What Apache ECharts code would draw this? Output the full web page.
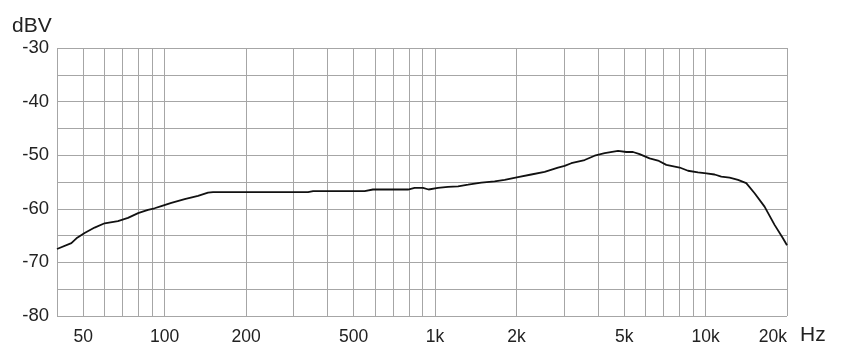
<!DOCTYPE html>
<html>
<head>
<meta charset="utf-8">
<script src="https://cdn.jsdelivr.net/npm/echarts@6/dist/echarts.min.js"></script>
<style>
html,body{margin:0;padding:0;background:#fff;}
#chart{width:841px;height:359px;}
</style>
</head>
<body>
<div id="chart"></div>
<script>
// Frequency (Hz) and level (dBV)
const freqs = [40, 45.2, 47.2, 50.6, 55.1, 60, 67.2, 73.2, 79.8, 86.8, 91.8, 97.2, 105.9, 118.6, 132.9, 144.7, 151,
  339, 354, 413, 549, 589, 794, 840, 902, 946, 1025, 1116, 1216, 1324, 1482, 1660, 1808, 2025, 2268, 2541, 2847,
  3012, 3188, 3571, 3889, 4237, 4747, 5093, 5392, 5703, 6209, 6670, 7159, 8018, 8610, 9373, 10069, 10798, 11429,
  12270, 13182, 14137, 15180, 16521, 17993, 19320, 20000];
const dbv = [-67.5, -66.4, -65.5, -64.5, -63.5, -62.7, -62.3, -61.7, -60.8, -60.2, -59.9, -59.5, -58.9, -58.2, -57.6, -57.0, -56.9,
  -56.9, -56.7, -56.7, -56.7, -56.4, -56.4, -56.1, -56.1, -56.4, -56.1, -55.9, -55.8, -55.5, -55.1, -54.9, -54.6, -54.1, -53.6, -53.1, -52.3,
  -52.0, -51.5, -50.9, -50.1, -49.6, -49.2, -49.4, -49.4, -49.8, -50.6, -51.0, -51.8, -52.3, -52.9, -53.2, -53.4, -53.6, -54.0,
  -54.2, -54.6, -55.2, -57.1, -59.6, -63.0, -65.5, -66.8];

const xMinHz = 40, xMaxHz = 20000;
const gridHz = [40, 50, 60, 70, 80, 90, 100, 200, 300, 400, 500, 600, 700, 800, 900, 1000,
  2000, 3000, 4000, 5000, 6000, 7000, 8000, 9000, 10000, 20000];
const labelHz = [50, 100, 200, 500, 1000, 2000, 5000, 10000, 20000];
const yMin = -80, yMax = -30, yStep = 5;

const lg = Math.log10;
const fmtHz = v => {
  const f = Math.round(Math.pow(10, v));
  return f >= 1000 ? (f / 1000) + 'k' : String(f);
};

const chart = echarts.init(document.getElementById('chart'), null, {renderer: 'canvas'});
const gridColor = '#a6a6a6';
const font = '"Liberation Sans", Arial, sans-serif';

chart.setOption({
  animation: false,
  grid: {left: 57, right: 54, top: 48, bottom: 43, containLabel: false},
  xAxis: {
    type: 'value',
    min: lg(xMinHz),
    max: lg(xMaxHz),
    axisLine: {show: false},
    axisTick: {show: false, customValues: gridHz.map(lg)},
    axisLabel: {
      customValues: labelHz.map(lg),
      formatter: fmtHz,
      alignMaxLabel: 'right',
      fontFamily: font, fontSize: 17.5, color: '#222', margin: 12
    },
    splitLine: {show: true, lineStyle: {color: gridColor, width: 1}}
  },
  yAxis: {
    type: 'value',
    min: yMin, max: yMax, interval: yStep,
    axisLine: {show: false},
    axisTick: {show: false},
    axisLabel: {
      formatter: v => (v % 10 === 0 ? String(v) : ''),
      fontFamily: font, fontSize: 18.5, color: '#222', margin: 8
    },
    splitLine: {show: true, lineStyle: {color: gridColor, width: 1}}
  },
  graphic: [
    {type: 'text', left: 12, top: 16, style: {text: 'dBV', fontFamily: font, fontSize: 21, fill: '#222'}},
    {type: 'text', left: 800, top: 325, style: {text: 'Hz', fontFamily: font, fontSize: 21, fill: '#222'}}
  ],
  series: [{
    type: 'line',
    data: freqs.map((f, i) => [lg(f), dbv[i]]),
    showSymbol: false,
    smooth: false,
    lineStyle: {color: '#111', width: 1.8},
    z: 5
  }]
});
</script>
</body>
</html>
